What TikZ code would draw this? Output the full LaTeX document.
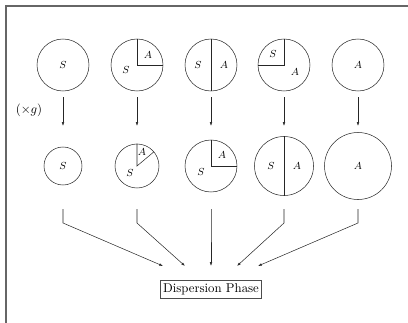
\documentclass[tikz,border=0pt]{standalone}
\usetikzlibrary{calc,arrows.meta}
\begin{document}
\begin{tikzpicture}[x=0.0275cm,y=-0.0275cm,
  bub/.style={circle,draw=black!85,line width=0.4pt,inner sep=0pt,minimum size=#1*0.55mm},
  lab/.style={font=\footnotesize,inner sep=0pt},
  conn/.style={draw=black!85,line width=0.4pt,-{Latex[length=3pt,width=2pt]}},
  part/.style={draw=black!85,line width=0.4pt}]
\useasboundingbox (0,0) rectangle (408,323);
\draw[black!60,line width=1.1pt] (6,323) -- (6,6) -- (408,6);
% top row
\node[bub=26] (t1) at (63,65) {};
\node[bub=26] (t2) at (137,65) {};
\node[bub=26] (t3) at (211,65) {};
\node[bub=26] (t4) at (284,65) {};
\node[bub=26] (t5) at (358,65) {};
% bottom row
\node[bub=19] (b1) at (63,166) {};
\node[bub=22] (b2) at (137,166) {};
\node[bub=26] (b3) at (211,166) {};
\node[bub=29.5] (b4) at (284,166) {};
\node[bub=33.5] (b5) at (358,166) {};
% partitions
\draw[part] (t2.north) -- (t2.center) -- (t2.east);
\draw[part] (t3.north) -- (t3.south);
\draw[part] (t4.north) -- (t4.center) -- (t4.west);
\draw[part] (b2.north) -- (b2.center) -- (b2.40);
\draw[part] (b3.north) -- (b3.center) -- (b3.east);
\draw[part] (b4.north) -- (b4.south);
% labels
\node[lab] at (t1) {$S$};
\node[lab] at ($(t2)+(11,-10)$) {$A$};
\node[lab] at ($(t2)+(-11,5)$) {$S$};
\node[lab] at ($(t3)+(-13,0)$) {$S$};
\node[lab] at ($(t3)+(13,0)$) {$A$};
\node[lab] at ($(t4)+(-11,-11)$) {$S$};
\node[lab] at ($(t4)+(11,7)$) {$A$};
\node[lab] at (t5) {$A$};
\node[lab] at (b1) {$S$};
\node[lab] at ($(b2)+(5,-14)$) {$A$};
\node[lab] at ($(b2)+(-7,7)$) {$S$};
\node[lab] at ($(b3)+(11,-11)$) {$A$};
\node[lab] at ($(b3)+(-10,6)$) {$S$};
\node[lab] at ($(b4)+(-13,0)$) {$S$};
\node[lab] at ($(b4)+(13,0)$) {$A$};
\node[lab] at (b5) {$A$};
\node (g) at (29,110) {$(\times g)$};
% top arrows
\foreach \i in {1,...,5} {
  \coordinate (s\i) at ($(t\i)+(0,32)$);
  \coordinate (e\i) at ($(t\i)+(0,61)$);
  \draw[conn] (s\i) -- (e\i);
}
% dispersion node
\node[draw,black!70,line width=0.5pt,inner xsep=2pt,inner ysep=2.5pt,text=black] (disp) at (211,289) {Dispersion Phase};
\foreach \i/\tx in {1/163,2/185,3/211,4/237,5/258} {
  \coordinate (u\i) at ($(b\i |- 0,209)$);
  \coordinate (k\i) at ($(b\i |- 0,223)$);
  \coordinate (d\i) at (\tx,266);
  \draw[conn] (u\i) -- (k\i) -- (d\i);
}
\end{tikzpicture}
\end{document}
